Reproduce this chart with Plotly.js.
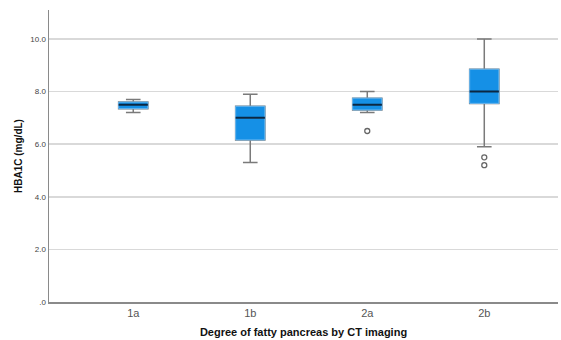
<!DOCTYPE html>
<html><head><meta charset="utf-8">
<script src="https://cdn.plot.ly/plotly-3.0.1.min.js"></script>
<style>html,body{margin:0;padding:0;background:#fff}#c{width:561px;height:340px}</style>
</head><body><div id="c"></div>
<script>
const categories = ['1a','1b','2a','2b'];
const q1 = [7.35, 6.16, 7.3, 7.55];
const median = [7.5, 7.0, 7.5, 8.0];
const q3 = [7.6, 7.44, 7.75, 8.85];
const lowerWhisker = [7.2, 5.3, 7.2, 5.9];
const upperWhisker = [7.7, 7.9, 8.0, 10.0];
const outlierX = ['2a','2b','2b'];
const outlierY = [6.5, 5.5, 5.2];
const yTickVals = [0,2,4,6,8,10];
const yTickText = ['.0','2.0','4.0','6.0','8.0','10.0'];

const common = {type:'box', x: categories, width: 0.25, hoverinfo:'skip', showlegend:false};
const traces = [
  Object.assign({}, common, {q1:q1, median:median, q3:q3, lowerfence:lowerWhisker, upperfence:upperWhisker,
    fillcolor:'rgba(0,0,0,0)', line:{color:'#7a7a7a', width:1.5}, whiskerwidth:0.5}),
  Object.assign({}, common, {q1:q1, median:median, q3:q3, lowerfence:q1, upperfence:q3,
    fillcolor:'#1590e6', line:{color:'#6bb8f0', width:1}, whiskerwidth:0}),
  Object.assign({}, common, {q1:median, median:median, q3:median, lowerfence:median, upperfence:median,
    fillcolor:'rgba(0,0,0,0)', line:{color:'#0b2742', width:2}, whiskerwidth:0}),
  {type:'scatter', mode:'markers', x: outlierX, y: outlierY, showlegend:false, hoverinfo:'skip',
    marker:{symbol:'circle-open', size:5, color:'#666', line:{width:1.3, color:'#666'}}}
];
const layout = {
  width:561, height:340,
  margin:{l:49, r:3, t:10, b:38},
  paper_bgcolor:'#fff', plot_bgcolor:'#fff',
  boxmode:'overlay',
  font:{family:'Liberation Sans, Arial, sans-serif'},
  xaxis:{type:'category', categoryorder:'array', categoryarray:categories, range:[-0.72, 3.63],
    showgrid:false, zeroline:false, showline:true, linecolor:'#8a8a8a', linewidth:1.5,
    ticks:'', tickfont:{size:11, color:'#555'},
    title:{text:'Degree of fatty pancreas by CT imaging', font:{size:11, color:'#111', weight:'bold'}, standoff:10}},
  yaxis:{range:[0, 11.1], tickvals:yTickVals, ticktext:yTickText, showgrid:true, gridcolor:'#d9d9d9', gridwidth:1.5,
    zeroline:false, showline:true, linecolor:'#8a8a8a', linewidth:1.5, ticks:'',
    tickfont:{size:8, color:'#444'},
    title:{text:'HBA1C (mg/dL)', font:{size:10, color:'#111', weight:'bold'}, standoff:6}}
};
Plotly.newPlot('c', traces, layout, {displayModeBar:false, staticPlot:true});
</script></body></html>
